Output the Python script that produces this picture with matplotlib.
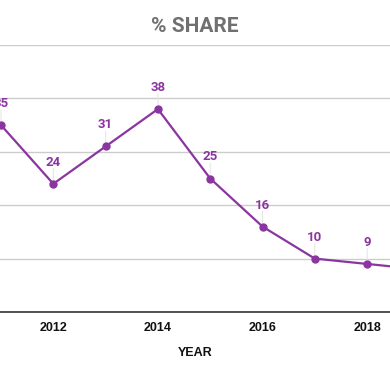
import matplotlib
matplotlib.use("Agg")
import matplotlib.pyplot as plt

years = [2011, 2012, 2013, 2014, 2015, 2016, 2017, 2018, 2019]
share = [35, 24, 31, 38, 25, 16, 10, 9, 8]
tick_years = [2012, 2014, 2016, 2018]
y_grid = [0, 10, 20, 30, 40, 50]

purple = "#8b35a0"

fig = plt.figure(figsize=(3.9, 3.71), dpi=100)
ax = fig.add_axes([0, 59/371, 1, 267/371])

ax.set_xlim(2011 - 1/52.3, 2011 + 389/52.3)
ax.set_ylim(0, 50)
ax.set_yticks(y_grid)
ax.yaxis.grid(True, color="#cccccc", linewidth=1)
ax.set_axisbelow(True)
for s in ["top", "right", "left"]:
    ax.spines[s].set_visible(False)
ax.spines["bottom"].set_color("#333333")
ax.spines["bottom"].set_linewidth(1.2)
ax.tick_params(axis="y", left=False, labelleft=False)
ax.tick_params(axis="x", bottom=False, pad=4)
ax.set_xticks(tick_years)
ax.set_xticklabels([str(t) for t in tick_years], fontfamily="Liberation Sans",
                   fontweight="bold", fontsize=9, color="#111111")

ax.plot(years, share, color=purple, linewidth=1.6, marker="o", markersize=5,
        clip_on=True, zorder=3)

for x, v in zip(years, share):
    ax.annotate("", xy=(x, v), xytext=(0, 11), textcoords="offset points",
                xycoords="data",
                arrowprops=dict(arrowstyle="-", color="#e6e6e6", lw=0.8,
                                shrinkA=0, shrinkB=3), zorder=2)
    ax.annotate(str(v), xy=(x, v), xytext=(0, 15.5), textcoords="offset points",
                ha="center", va="center", color=purple, fontsize=9.5,
                fontweight="bold", fontfamily="Roboto")

ax.set_xlabel("YEAR", fontfamily="Liberation Sans", fontweight="bold",
              fontsize=9, color="#111111", labelpad=9)

fig.text(0.5, 1 - 26/371, "% SHARE", ha="center", va="center",
         fontfamily="Roboto", fontweight="bold", fontsize=15, color="#707070")

fig.savefig("out.png", dpi=100)
